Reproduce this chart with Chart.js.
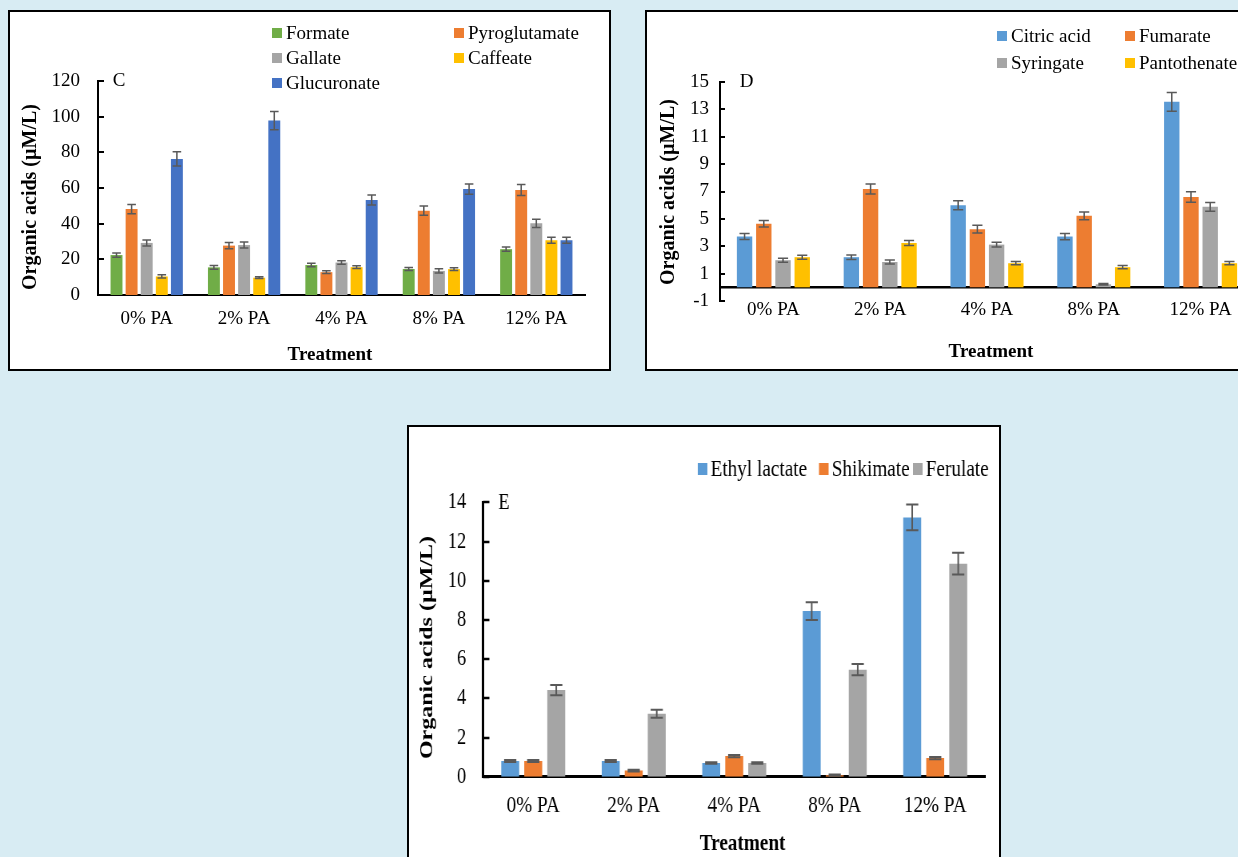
<!DOCTYPE html>
<html>
<head>
<meta charset="utf-8">
<title>Organic acids by treatment</title>
<script src="https://cdn.jsdelivr.net/npm/chart.js@4.4.1/dist/chart.umd.min.js"></script>
<style>
  html, body { margin: 0; padding: 0; overflow: hidden; }
  body { width: 1238px; height: 857px; background: #d8ecf3; position: relative; }
  .panel { position: absolute; box-sizing: border-box; border: 2px solid #000; background: #fff; overflow: hidden; }
  .panel canvas { position: absolute; left: 0; top: 0; }
  #panelC { left: 8px; top: 10px; width: 603px; height: 361px; }
  #panelD { left: 645px; top: 10px; width: 620px; height: 361px; }
  #panelE { left: 407px; top: 425px; width: 594px; height: 440px; }
  #chartE { transform: scaleX(0.8); transform-origin: 0 0; }
</style>
</head>
<body>
<div class="panel" id="panelC"><canvas id="chartC" width="599" height="357"></canvas></div>
<div class="panel" id="panelD"><canvas id="chartD" width="616" height="357"></canvas></div>
<div class="panel" id="panelE"><canvas id="chartE" width="737" height="436"></canvas></div>
<script>
// ---- shared categories ----
const treatments = ['0% PA', '2% PA', '4% PA', '8% PA', '12% PA'];

// ---- panel C (µM/L), means and standard errors ----
const formate          = [22.4, 15.5, 16.8, 14.6, 25.7];
const formateErr       = [1.2, 1.0, 1.0, 0.8, 1.2];
const pyroglutamate    = [48.2, 27.7, 12.8, 47.3, 58.9];
const pyroglutamateErr = [2.6, 1.7, 0.8, 2.6, 3.1];
const gallate          = [29.2, 28.0, 18.2, 13.5, 40.2];
const gallateErr       = [1.7, 1.7, 1.0, 1.2, 2.3];
const caffeate         = [10.4, 9.7, 15.6, 14.5, 30.7];
const caffeateErr      = [0.9, 0.5, 0.8, 0.8, 1.7];
const glucuronate      = [76.3, 97.8, 53.3, 59.4, 30.7];
const glucuronateErr   = [4.0, 5.1, 2.8, 2.9, 1.7];
const ticksC = { min: 0, max: 120, step: 20 };

// ---- panel D ----
const citricAcid      = [3.71, 2.20, 6.00, 3.71, 13.55];
const citricAcidErr   = [0.22, 0.16, 0.33, 0.23, 0.68];
const fumarate        = [4.64, 7.18, 4.25, 5.22, 6.60];
const fumarateErr     = [0.24, 0.37, 0.28, 0.28, 0.38];
const syringate       = [1.98, 1.85, 3.12, 0.22, 5.88];
const syringateErr    = [0.15, 0.15, 0.17, 0.05, 0.32];
const pantothenate    = [2.20, 3.24, 1.76, 1.47, 1.76];
const pantothenateErr = [0.15, 0.18, 0.12, 0.12, 0.12];
const ticksD = { min: -1, max: 15, step: 2 };

// ---- panel E ----
const ethylLactate    = [0.80, 0.80, 0.70, 8.45, 13.23];
const ethylLactateErr = [0.05, 0.05, 0.04, 0.45, 0.66];
const shikimate       = [0.80, 0.31, 1.05, 0.08, 0.95];
const shikimateErr    = [0.05, 0.04, 0.06, 0.03, 0.06];
const ferulate        = [4.42, 3.21, 0.70, 5.46, 10.87];
const ferulateErr     = [0.26, 0.20, 0.04, 0.29, 0.55];
const ticksE = { min: 0, max: 14, step: 2 };

const SERIF = '"Liberation Serif", "Times New Roman", serif';
Chart.defaults.font.family = SERIF;
Chart.defaults.color = '#000';

// Zero line, error bars, inward y tick marks, panel letter, axis titles and legend.
const panelDecor = {
  id: 'panelDecor',
  beforeDatasetsDraw(chart, args, o) {
    if (!o.zeroLine) return;
    const { ctx, chartArea: a } = chart;
    const py = chart.scales.y.getPixelForValue(0);
    ctx.save();
    ctx.strokeStyle = '#000';
    ctx.lineWidth = o.zeroLine;
    ctx.beginPath();
    ctx.moveTo(a.left, py);
    ctx.lineTo(a.right, py);
    ctx.stroke();
    ctx.restore();
  },
  afterDatasetsDraw(chart, args, o) {
    const { ctx } = chart;
    const y = chart.scales.y;
    ctx.save();
    ctx.strokeStyle = '#595959';
    ctx.lineWidth = o.errWidth;
    chart.data.datasets.forEach((ds, i) => {
      const meta = chart.getDatasetMeta(i);
      meta.data.forEach((bar, j) => {
        const v = ds.data[j], e = ds.errors[j];
        const yt = y.getPixelForValue(v + e);
        const yb = y.getPixelForValue(v - e);
        const h = bar.width * o.capRatio;
        ctx.beginPath();
        ctx.moveTo(bar.x, yt); ctx.lineTo(bar.x, yb);
        ctx.moveTo(bar.x - h, yt); ctx.lineTo(bar.x + h, yt);
        ctx.moveTo(bar.x - h, yb); ctx.lineTo(bar.x + h, yb);
        ctx.stroke();
      });
    });
    ctx.restore();
  },
  afterDraw(chart, args, o) {
    const { ctx, chartArea: a } = chart;
    const y = chart.scales.y;
    ctx.save();
    // tick marks pointing into the plot
    ctx.strokeStyle = '#000';
    ctx.lineWidth = o.tickWidth;
    y.ticks.forEach(t => {
      const py = Math.round(y.getPixelForValue(t.value));
      ctx.beginPath();
      ctx.moveTo(a.left, py);
      ctx.lineTo(a.left + o.tickLen, py);
      ctx.stroke();
    });
    ctx.fillStyle = '#000';
    ctx.textAlign = 'center';
    ctx.textBaseline = 'middle';
    // panel letter
    ctx.font = o.letter.font;
    ctx.fillText(o.letter.text, o.letter.x, o.letter.y);
    // x title
    ctx.font = o.xTitle.font;
    ctx.fillText(o.xTitle.text, o.xTitle.x, o.xTitle.y);
    // y title
    ctx.save();
    ctx.translate(o.yTitle.x, o.yTitle.y);
    ctx.rotate(-Math.PI / 2);
    ctx.font = o.yTitle.font;
    ctx.fillText(o.yTitle.text, 0, 0);
    ctx.restore();
    // legend
    const lg = o.legend;
    ctx.textAlign = 'left';
    ctx.font = lg.font;
    chart.data.datasets.forEach((ds, i) => {
      const [lx, ly] = lg.at[i];
      ctx.fillStyle = ds.backgroundColor;
      ctx.fillRect(lx, ly, lg.boxW, lg.boxH);
      ctx.fillStyle = '#000';
      ctx.fillText(ds.label, lx + lg.gap, ly + lg.boxH / 2 + 1);
    });
    ctx.restore();
  }
};

function series(label, data, errors, color) {
  return { label, data, errors, backgroundColor: color, borderWidth: 0 };
}

function makeChart(id, datasets, c) {
  return new Chart(document.getElementById(id), {
    type: 'bar',
    data: { labels: treatments, datasets },
    options: {
      responsive: false,
      animation: false,
      events: [],
      layout: { padding: { left: 0, top: c.top, right: c.right, bottom: 0 } },
      datasets: { bar: { categoryPercentage: c.cat, barPercentage: c.bar } },
      plugins: {
        legend: { display: false },
        tooltip: { enabled: false },
        panelDecor: c.decor
      },
      scales: {
        x: {
          grid: { display: false, drawTicks: false },
          border: c.xBorder,
          ticks: { font: { size: c.catSize }, padding: c.xPad, color: '#000' },
          afterFit: s => { s.height = c.xHeight; }
        },
        y: {
          min: c.ticks.min,
          max: c.ticks.max,
          ticks: { stepSize: c.ticks.step, font: { size: c.tickSize }, padding: c.yPad, color: '#000' },
          grid: { display: false, drawTicks: false },
          border: { display: true, color: '#000', width: c.axisWidth },
          afterFit: s => { s.width = c.yWidth; }
        }
      }
    },
    plugins: [panelDecor]
  });
}

const yTitleText = 'Organic acids (µM/L)';

// Panel C
makeChart('chartC', [
  series('Formate', formate, formateErr, '#70ad47'),
  series('Pyroglutamate', pyroglutamate, pyroglutamateErr, '#ed7d31'),
  series('Gallate', gallate, gallateErr, '#a5a5a5'),
  series('Caffeate', caffeate, caffeateErr, '#ffc000'),
  series('Glucuronate', glucuronate, glucuronateErr, '#4472c4')
], {
  top: 69, right: 24, yWidth: 88, xHeight: 74,
  cat: 0.775, bar: 0.79,
  ticks: ticksC, tickSize: 19, catSize: 19, yPad: 18, xPad: 13,
  axisWidth: 2,
  xBorder: { display: true, color: '#000', width: 2 },
  decor: {
    errWidth: 1.5, capRatio: 0.36, tickLen: 6, tickWidth: 2,
    letter: { text: 'C', x: 109, y: 69, font: '19px ' + SERIF },
    xTitle: { text: 'Treatment', x: 320, y: 343, font: 'bold 19px ' + SERIF },
    yTitle: { text: yTitleText, x: 21, y: 185, font: 'bold 20px ' + SERIF },
    legend: {
      font: '19px ' + SERIF, boxW: 10, boxH: 10, gap: 14,
      at: [[262, 16], [444, 16], [262, 41], [444, 41], [262, 66]]
    }
  }
});

// Panel D (axis crosses at zero)
makeChart('chartD', [
  series('Citric acid', citricAcid, citricAcidErr, '#5b9bd5'),
  series('Fumarate', fumarate, fumarateErr, '#ed7d31'),
  series('Syringate', syringate, syringateErr, '#a5a5a5'),
  series('Pantothenate', pantothenate, pantothenateErr, '#ffc000')
], {
  top: 70, right: 9, yWidth: 73, xHeight: 68,
  cat: 0.72, bar: 0.8,
  ticks: ticksD, tickSize: 19, catSize: 19, yPad: 11, xPad: -2,
  axisWidth: 2,
  xBorder: { display: false },
  decor: {
    zeroLine: 2.5,
    errWidth: 1.5, capRatio: 0.33, tickLen: 5, tickWidth: 2,
    letter: { text: 'D', x: 99.5, y: 70.5, font: '19px ' + SERIF },
    xTitle: { text: 'Treatment', x: 344, y: 340, font: 'bold 19px ' + SERIF },
    yTitle: { text: yTitleText, x: 22, y: 180, font: 'bold 20px ' + SERIF },
    legend: {
      font: '19px ' + SERIF, boxW: 10, boxH: 10, gap: 14,
      at: [[350, 19], [478, 19], [350, 46], [478, 46]]
    }
  }
});

// Panel E (canvas drawn wide, then narrowed horizontally)
makeChart('chartE', [
  series('Ethyl lactate', ethylLactate, ethylLactateErr, '#5b9bd5'),
  series('Shikimate', shikimate, shikimateErr, '#ed7d31'),
  series('Ferulate', ferulate, ferulateErr, '#a5a5a5')
], {
  top: 75.3, right: 16.4, yWidth: 92.5, xHeight: 86.3,
  cat: 0.687, bar: 0.78,
  ticks: ticksE, tickSize: 23, catSize: 24, yPad: 21, xPad: 15,
  axisWidth: 3,
  xBorder: { display: true, color: '#000', width: 3 },
  decor: {
    errWidth: 2, capRatio: 0.34, tickLen: 8, tickWidth: 2.5,
    letter: { text: 'E', x: 118.75, y: 76, font: '23px ' + SERIF },
    xTitle: { text: 'Treatment', x: 417, y: 416.5, font: 'bold 24px ' + SERIF },
    yTitle: { text: yTitleText, x: 22.5, y: 220.5, font: 'bold 24px ' + SERIF },
    legend: {
      font: '24px ' + SERIF, boxW: 12, boxH: 12, gap: 16,
      at: [[361, 36], [512.5, 36], [630, 36]]
    }
  }
});
</script>
</body>
</html>
